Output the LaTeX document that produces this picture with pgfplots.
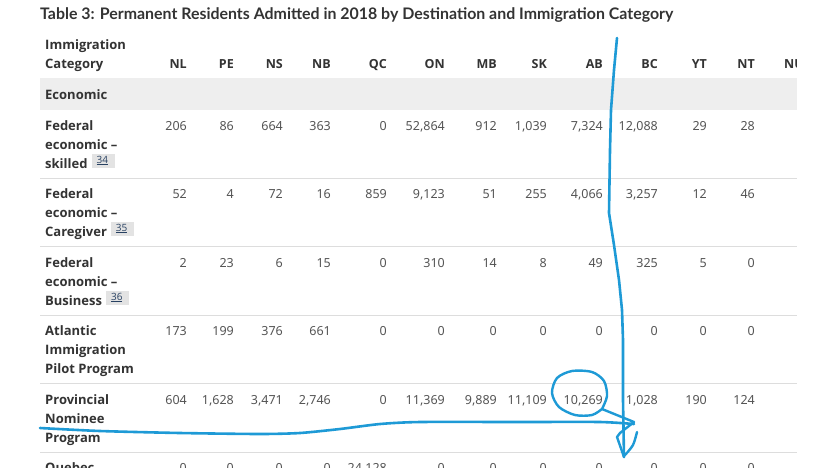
\documentclass[border=0pt]{standalone}
\usepackage{pgfplots}
\pgfplotsset{compat=1.18}
\usepackage{pgfplotstable}
\usepackage{fontspec}
\setmainfont{Noto Sans}
\newfontfamily\labfont{Open Sans}
\newfontfamily\titlefont{Lato}
\definecolor{txt}{HTML}{333333}
\definecolor{num}{HTML}{555555}
\definecolor{band}{HTML}{EEEEEE}
\definecolor{rulec}{HTML}{DDDDDD}
\definecolor{pen}{HTML}{1E9AD6}
\definecolor{badgebg}{HTML}{E3E3E3}
\definecolor{linkc}{HTML}{284162}
\newcommand\badge[1]{\hspace{4pt}{\setlength{\fboxsep}{0pt}\colorbox{badgebg}{\rule{0pt}{14pt}\raisebox{5pt}{\fontsize{10}{10}\selectfont\labfont\mdseries\color{linkc}\hspace{5pt}\underline{#1}\hspace{7pt}}}}}
\pgfplotstableread{
x    r1     r2    r3   r4   r5      r6
187  206    52    2    173  604     0
234  86     4     23   199  1,628   0
283  664    72    6    376  3,471   0
331  363    16    15   661  2,746   0
387  0      859   0    0    0       24,128
445  52,864 9,123 310  0    11,369  0
497  912    51    14   0    9,889   0
547  1,039  255   8    0    11,109  0
603  7,324  4,066 49   0    10,269  0
658  12,088 3,257 325  0    1,028   0
707  29     12    5    0    190     0
755  28     46    0    0    124     0
}\datatab
\begin{document}
\begin{tikzpicture}
\begin{axis}[
  scale only axis, width=835pt, height=467pt,
  xmin=0, xmax=835, ymin=0, ymax=467, y dir=reverse,
  axis lines=none, ticks=none, clip=false,
  nodes near coords, point meta=explicit symbolic,
  every node near coord/.append style={anchor=base east, inner sep=0pt, text=num, font=\fontsize{12.5}{12.5}\selectfont},
]
\newcommand\lab[3]{\node[anchor=base west, inner sep=0pt, text=txt, font=\labfont\bfseries\fontsize{13}{13}\selectfont] at (axis cs:#1,#2) {#3};}
\newcommand\hdr[2]{\node[anchor=base east, inner sep=0pt, text=txt, font=\labfont\bfseries\fontsize{12.5}{12.5}\selectfont] at (axis cs:#1,68) {#2};}
\newcommand\seprule[1]{\draw[rulec, line width=1pt] (axis cs:40,#1) -- (axis cs:797,#1);}
\fill[white] (axis cs:0,0) rectangle (axis cs:835,467);
\coordinate (bbA) at (axis cs:0,467);
\coordinate (bbB) at (axis cs:835,0);
% title
\node[anchor=base west, inner sep=0pt, text=txt] at (axis cs:40,19) {\resizebox{633pt}{!}{\titlefont\bfseries Table 3: Permanent Residents Admitted in 2018 by Destination and Immigration Category}};
% band and rules
\fill[band] (axis cs:40,78) rectangle (axis cs:797,110);
\seprule{178}\seprule{246}\seprule{315}\seprule{383}\seprule{452}
% header
\lab{45}{49}{Immigration}
\lab{45}{68}{Category}
\hdr{187}{NL}\hdr{234}{PE}\hdr{283}{NS}\hdr{331}{NB}\hdr{387}{QC}\hdr{445}{ON}
\hdr{497}{MB}\hdr{547}{SK}\hdr{603}{AB}\hdr{658}{BC}\hdr{707}{YT}\hdr{755}{NT}\hdr{804}{NU}
\fill[white] (axis cs:797,50) rectangle (axis cs:835,80);
\lab{45}{99}{Economic}
% row labels
\lab{45}{130}{Federal}\lab{45}{149}{economic –}\lab{45}{168}{skilled\badge{34}}
\lab{45}{198}{Federal}\lab{45}{217}{economic –}\lab{45}{236}{Caregiver\badge{35}}
\lab{45}{267}{Federal}\lab{45}{286}{economic –}\lab{45}{305}{Business\badge{36}}
\lab{45}{335}{Atlantic}\lab{45}{354}{Immigration}\lab{45}{373}{Pilot Program}
\lab{45}{404}{Provincial}\lab{45}{423}{Nominee}\lab{45}{442}{Program}
\lab{45}{472}{Quebec}
% values
\addplot[draw=none, mark=none] table[x=x, y expr=130, meta=r1] {\datatab};
\addplot[draw=none, mark=none] table[x=x, y expr=198, meta=r2] {\datatab};
\addplot[draw=none, mark=none] table[x=x, y expr=267, meta=r3] {\datatab};
\addplot[draw=none, mark=none] table[x=x, y expr=335, meta=r4] {\datatab};
\addplot[draw=none, mark=none] table[x=x, y expr=404, meta=r5] {\datatab};
\addplot[draw=none, mark=none] table[x=x, y expr=472, meta=r6] {\datatab};
% hand-drawn annotation
\addplot[pen, line width=2.6pt, line cap=round, line join=round, nodes near coords=] coordinates {(617,38) (614,70) (611,110) (610,150) (609,213) (614,245) (619,280) (622,310) (623,340) (623,400) (624,457)};
\addplot[pen, line width=2.6pt, smooth, tension=0.4, line cap=round, line join=round, nodes near coords=] coordinates {(40,428) (100,431) (180,433) (260,434) (300,433) (340,429) (380,424) (420,422) (520,422) (600,422) (634,424)};
\addplot[pen, line width=2.4pt, smooth, tension=0.5, line cap=round, line join=round, nodes near coords=] coordinates {(602,409) (607,396) (604,381) (592,372) (572,371) (557,378) (552,393) (559,407) (575,415) (592,415) (602,409)};
\addplot[pen, line width=2.4pt, line cap=round, line join=round, nodes near coords=] coordinates {(602,409) (634,422) (620,433) (617,437) (624,457)};
\addplot[pen, line width=2.4pt, smooth, line cap=round, nodes near coords=] coordinates {(637,432) (633,445) (625,455)};
\end{axis}
\pgfresetboundingbox
\useasboundingbox (bbA) rectangle (bbB);
\end{tikzpicture}
\end{document}
